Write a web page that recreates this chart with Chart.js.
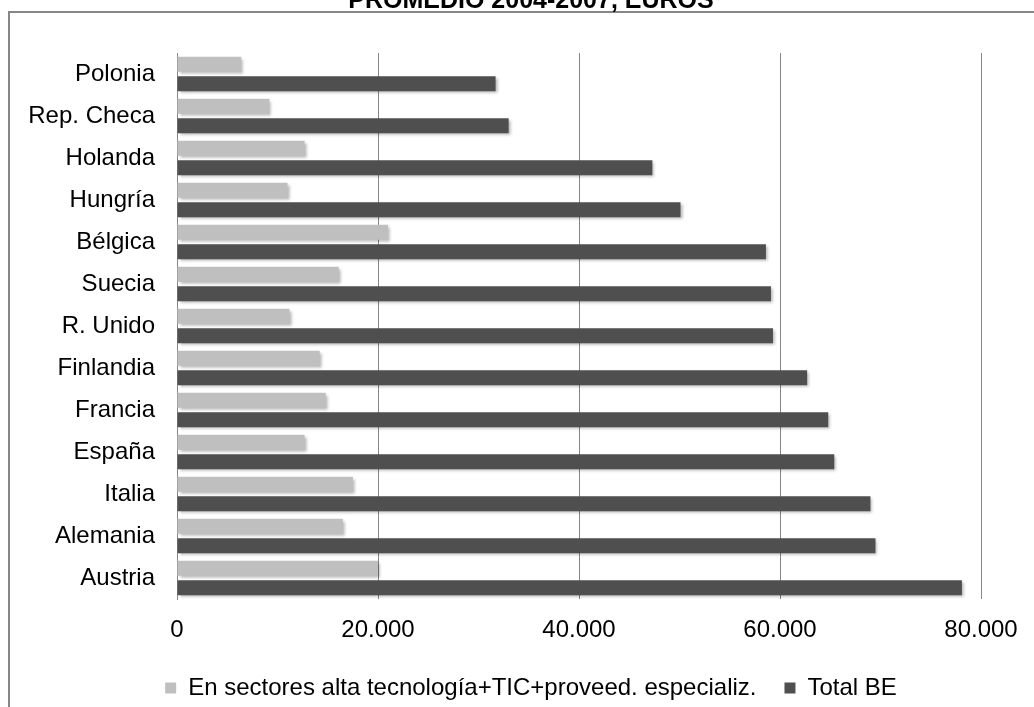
<!DOCTYPE html>
<html>
<head>
<meta charset="utf-8">
<script src="https://cdn.jsdelivr.net/npm/chart.js@4"></script>
<style>
  html, body { margin: 0; padding: 0; background: #fff; overflow: hidden; }
  #wrap { position: absolute; left: 0; top: -14px; width: 1062px; height: 724px; }
</style>
</head>
<body>
<div id="wrap"><canvas id="chart"></canvas></div>
<script>
// Data
const countries = ['Polonia', 'Rep. Checa', 'Holanda', 'Hungría', 'Bélgica', 'Suecia', 'R. Unido',
                   'Finlandia', 'Francia', 'España', 'Italia', 'Alemania', 'Austria'];
const altaTec = [6400, 9200, 12700, 11000, 21000, 16100, 11200, 14200, 14800, 12700, 17500, 16500, 20000];
const totalBE = [31700, 33000, 47300, 50100, 58600, 59100, 59300, 62700, 64800, 65400, 69000, 69500, 78100];
const xTicks = [0, 20000, 40000, 60000, 80000];

const FONT = "'Liberation Sans', Arial, sans-serif";

// thousands with a dot, like the original
const fmt = v => String(v).replace(/\B(?=(\d{3})+(?!\d))/g, '.');

// frame of the chart box (only left and top edges are in view)
const framePlugin = {
    id: 'frame',
    beforeDraw(chart) {
        const ctx = chart.ctx;
        ctx.save();
        ctx.strokeStyle = '#878787';
        ctx.lineWidth = 2;
        ctx.beginPath();
        ctx.moveTo(9, chart.height + 5);
        ctx.lineTo(9, 26);
        ctx.lineTo(chart.width - 9, 26);
        ctx.stroke();
        ctx.restore();
    }
};

// soft drop shadow under the bars
const shadowPlugin = {
    id: 'barShadow',
    beforeDatasetsDraw(chart) {
        const ctx = chart.ctx;
        ctx.save();
        ctx.shadowColor = 'rgba(0,0,0,0.3)';
        ctx.shadowBlur = 3;
        ctx.shadowOffsetX = 2;
        ctx.shadowOffsetY = 2;
    },
    afterDatasetsDraw(chart) {
        chart.ctx.restore();
    }
};

new Chart(document.getElementById('chart').getContext('2d'), {
    type: 'bar',
    data: {
        labels: countries,
        datasets: [
            {
                label: 'En sectores alta tecnología+TIC+proveed. especializ.',
                data: altaTec,
                backgroundColor: '#bfbfbf',
                barPercentage: 0.77,
                categoryPercentage: 0.93
            },
            {
                label: 'Total BE',
                data: totalBE,
                backgroundColor: '#4f4f4f',
                barPercentage: 0.77,
                categoryPercentage: 0.93
            }
        ]
    },
    options: {
        indexAxis: 'y',
        responsive: true,
        maintainAspectRatio: false,
        animation: false,
        layout: { padding: { left: 9, right: 9, top: 0, bottom: 0 } },
        scales: {
            x: {
                min: 0,
                max: 80000,
                afterBuildTicks: s => { s.ticks = xTicks.map(v => ({ value: v })); },
                afterFit: s => { s.height = 49; },
                grid: { color: '#868686', lineWidth: 1, drawTicks: false },
                border: { display: false },
                ticks: {
                    padding: 17,
                    color: '#000',
                    font: { family: FONT, size: 24 },
                    callback: v => fmt(v)
                }
            },
            y: {
                grid: { display: false },
                border: { display: true, color: '#868686' },
                afterFit: s => { s.width = 168; },
                ticks: {
                    padding: 14,
                    color: '#000',
                    font: { family: FONT, size: 24 }
                }
            },
            yRight: {
                type: 'linear',
                position: 'right',
                display: true,
                grid: { display: false },
                border: { display: false },
                ticks: { display: false },
                afterFit: s => { s.width = 72; }
            }
        },
        plugins: {
            title: {
                display: true,
                text: 'PROMEDIO 2004-2007, EUROS',
                color: '#000',
                font: { family: FONT, size: 25, weight: 'bold' },
                padding: { top: 0, bottom: 37 }
            },
            legend: {
                position: 'bottom',
                labels: {
                    boxWidth: 11,
                    boxHeight: 11,
                    padding: 28,
                    color: '#000',
                    font: { family: FONT, size: 24 }
                }
            },
            tooltip: { enabled: false }
        }
    },
    plugins: [framePlugin, shadowPlugin]
});
</script>
</body>
</html>
